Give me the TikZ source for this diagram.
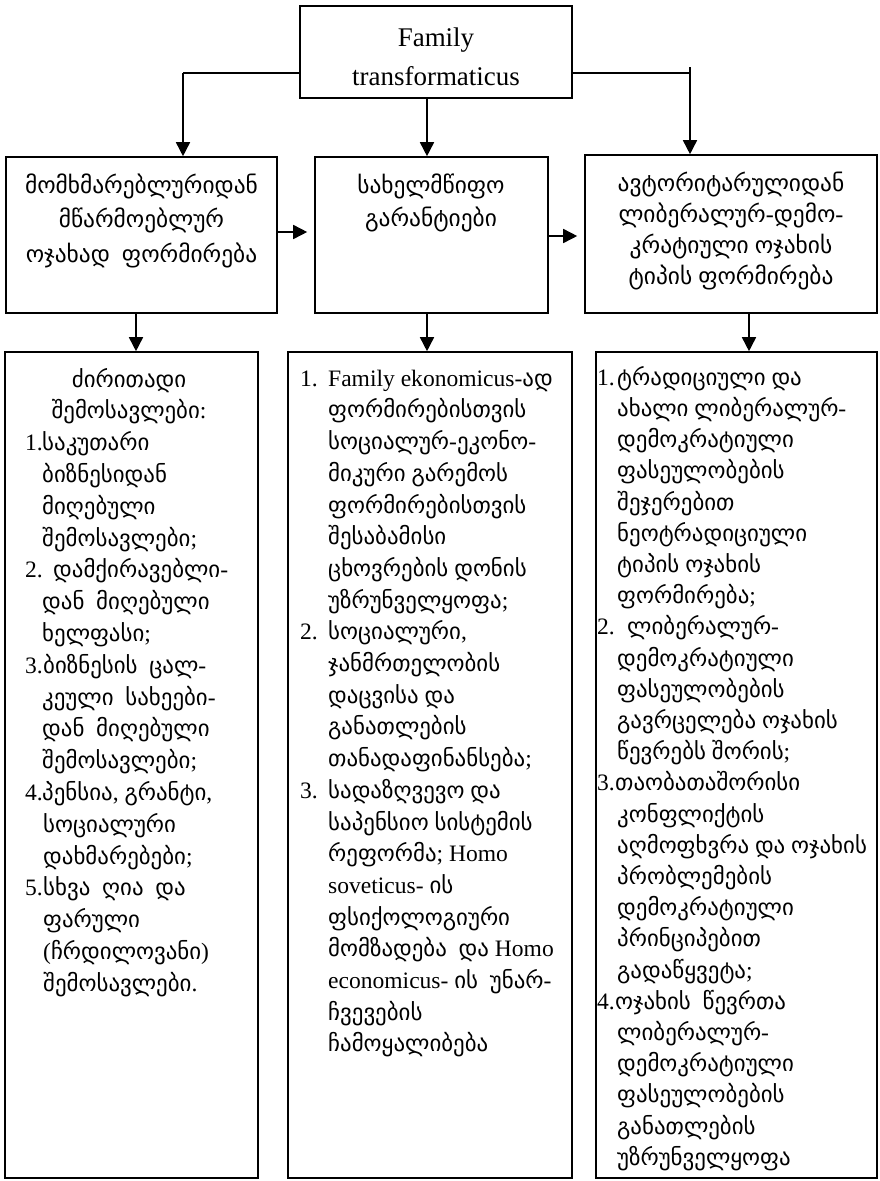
\documentclass[tikz,border=0pt]{standalone}
\usepackage{fontspec}
\setmainfont{Liberation Serif}[Scale=1.07]
\newfontfamily\geofont{DejaVu Sans}[Scale=1.04]
\usetikzlibrary{arrows.meta}
\XeTeXinterchartokenstate=1
\newXeTeXintercharclass\GeoClass
\newcount\gcnt
\gcnt="10A0
\loop
  \XeTeXcharclass\gcnt=\GeoClass
  \ifnum\gcnt<"10FF \advance\gcnt by 1 \repeat
\XeTeXinterchartoks 0 \GeoClass = {\geofont}
\XeTeXinterchartoks 4095 \GeoClass = {\geofont}
\XeTeXinterchartoks \GeoClass 0 = {\rmfamily}
\XeTeXinterchartoks \GeoClass 4095 = {\rmfamily}
\newcommand\nb[2]{\makebox[#1][l]{#2}}
\tikzset{
  box/.style={draw, line width=1.6pt, inner sep=0pt},
  arr/.style={line width=1.6pt, -{Triangle[length=14pt,width=14pt]}},
  ln/.style={line width=1.6pt},
  ttl/.style={inner sep=0pt, align=center, anchor=north, font=\fontsize{25.2}{39}\selectfont},
  ctrA/.style={inner sep=0pt, align=center, anchor=north, font=\fontsize{22.5}{34.5}\selectfont},
  ctrB/.style={inner sep=0pt, align=center, anchor=north, font=\fontsize{22.5}{33}\selectfont},
  ctrC/.style={inner sep=0pt, align=center, anchor=north, font=\fontsize{22.5}{31}\selectfont},
  lstL/.style={inner sep=0pt, align=left, anchor=north west, font=\fontsize{22}{31.8}\selectfont},
  lstLc/.style={inner sep=0pt, align=center, anchor=north, font=\fontsize{22}{31.8}\selectfont},
  lstM/.style={inner sep=0pt, align=left, anchor=north west, font=\fontsize{22}{31.7}\selectfont},
  lstR/.style={inner sep=0pt, align=left, anchor=north west, font=\fontsize{22}{31.2}\selectfont}
}
\begin{document}
\begin{tikzpicture}[x=1pt,y=-1pt]
\useasboundingbox[fill=white] (0,0) rectangle (880,1181);
% boxes
\node[box, minimum width=272pt, minimum height=92pt] (top) at (436,52) {};
\node[box, minimum width=271pt, minimum height=156pt] (L2) at (141.5,235) {};
\node[box, minimum width=233pt, minimum height=156pt] (M2) at (431.5,235) {};
\node[box, minimum width=292pt, minimum height=158pt] (R2) at (731,234) {};
\node[box, minimum width=253pt, minimum height=826pt] (L3) at (131.5,765) {};
\node[box, minimum width=284pt, minimum height=826pt] (M3) at (430,765) {};
\node[box, minimum width=281pt, minimum height=826pt] (R3) at (736.5,765) {};
% texts
\node[ttl] (topt) at (436,18.7) {\strut Family\\transformaticus};
\node[ctrA] (L2t) at (141.5,168.9) {\strut მომხმარებლურიდან\\მწარმოებლურ\\ოჯახად\ \ ფორმირება};
\node[ctrB] (M2t) at (431,169.9) {\strut სახელმწიფო\\გარანტიები};
\node[ctrC] (R2t) at (731,169.3) {\strut ავტორიტარულიდან\\ლიბერალურ-დემო-\\კრატიული ოჯახის\\ტიპის ფორმირება};
\node[lstLc] (L3h) at (129,364.7) {\strut ძირითადი\\შემოსავლები:};
\node[lstL] (L3t) at (25,428.3) {\strut\nb{17pt}{1.}საკუთარი\\
\hspace*{17pt}ბიზნესიდან\\
\hspace*{17pt}მიღებული\\
\hspace*{17pt}შემოსავლები;\\
\nb{28pt}{2.}დამქირავებლი-\\
\hspace*{17pt}დან\ \ მიღებული\\
\hspace*{17pt}ხელფასი;\\
\nb{18pt}{3.}ბიზნესის\ \ ცალ-\\
\hspace*{17pt}კეული\ \ სახეები-\\
\hspace*{17pt}დან\ \ მიღებული\\
\hspace*{17pt}შემოსავლები;\\
\nb{17pt}{4.}პენსია,\ გრანტი,\\
\hspace*{18pt}სოციალური\\
\hspace*{18pt}დახმარებები;\\
\nb{18pt}{5.}სხვა\ \ ღია\ \ და\\
\hspace*{18pt}ფარული\\
\hspace*{18pt}(ჩრდილოვანი)\\
\hspace*{18pt}შემოსავლები.};
\node[lstM] (M3t) at (300,363.8) {\strut\nb{28pt}{1.}Family ekonomicus-ად\\
\hspace*{28pt}ფორმირებისთვის\\
\hspace*{28pt}სოციალურ-ეკონო-\\
\hspace*{28pt}მიკური გარემოს\\
\hspace*{28pt}ფორმირებისთვის\\
\hspace*{28pt}შესაბამისი\\
\hspace*{28pt}ცხოვრების დონის\\
\hspace*{28pt}უზრუნველყოფა;\\
\nb{28pt}{2.}სოციალური,\\
\hspace*{28pt}ჯანმრთელობის\\
\hspace*{28pt}დაცვისა და\\
\hspace*{28pt}განათლების\\
\hspace*{28pt}თანადაფინანსება;\\
\nb{28pt}{3.}სადაზღვევო და\\
\hspace*{28pt}საპენსიო სისტემის\\
\hspace*{28pt}რეფორმა; Homo\\
\hspace*{28pt}soveticus- ის\\
\hspace*{28pt}ფსიქოლოგიური\\
\hspace*{28pt}მომზადება\ \ და Homo\\
\hspace*{28pt}economicus- ის\ \ უნარ-\\
\hspace*{28pt}ჩვევების\\
\hspace*{28pt}ჩამოყალიბება};
\node[lstR] (R3t) at (597,363.2) {\strut\nb{20pt}{1.}ტრადიციული და\\
\hspace*{20pt}ახალი ლიბერალურ-\\
\hspace*{20pt}დემოკრატიული\\
\hspace*{20pt}ფასეულობების\\
\hspace*{20pt}შეჯერებით\\
\hspace*{20pt}ნეოტრადიციული\\
\hspace*{20pt}ტიპის ოჯახის\\
\hspace*{20pt}ფორმირება;\\
\nb{30pt}{2.}ლიბერალურ-\\
\hspace*{20pt}დემოკრატიული\\
\hspace*{20pt}ფასეულობების\\
\hspace*{20pt}გავრცელება ოჯახის\\
\hspace*{20pt}წევრებს შორის;\\
\nb{18pt}{3.}თაობათაშორისი\\
\hspace*{20pt}კონფლიქტის\\
\hspace*{20pt}აღმოფხვრა და ოჯახის\\
\hspace*{20pt}პრობლემების\\
\hspace*{20pt}დემოკრატიული\\
\hspace*{20pt}პრინციპებით\\
\hspace*{20pt}გადაწყვეტა;\\
\nb{18pt}{4.}ოჯახის\ \ წევრთა\\
\hspace*{20pt}ლიბერალურ-\\
\hspace*{20pt}დემოკრატიული\\
\hspace*{20pt}ფასეულობების\\
\hspace*{20pt}განათლების\\
\hspace*{20pt}უზრუნველყოფა};
% connectors top
\coordinate (jL) at (183,73);
\coordinate (jR) at (690,73);
\coordinate (jRt) at (690,67);
\coordinate (jM) at (427,0);
\draw[ln] (top.west |- jL) -- (jL);
\draw[arr] (jL) -- (jL |- L2.north);
\draw[arr] (top.south -| jM) -- (M2.north -| jM);
\draw[ln] (top.east |- jR) -- (jR);
\draw[arr] (jRt) -- (jRt |- R2.north);
% row 2 horizontal
\coordinate (hA) at (0,232);
\coordinate (hB) at (0,236);
\draw[arr, shorten >=7pt] (L2.east |- hA) -- (M2.west |- hA);
\draw[arr, shorten >=7pt] (M2.east |- hB) -- (R2.west |- hB);
% down arrows
\coordinate (dL) at (136,0);
\coordinate (dM) at (427,0);
\coordinate (dR) at (749,0);
\draw[arr] (L2.south -| dL) -- (L3.north -| dL);
\draw[arr] (M2.south -| dM) -- (M3.north -| dM);
\draw[arr] (R2.south -| dR) -- (R3.north -| dR);
\end{tikzpicture}
\end{document}
